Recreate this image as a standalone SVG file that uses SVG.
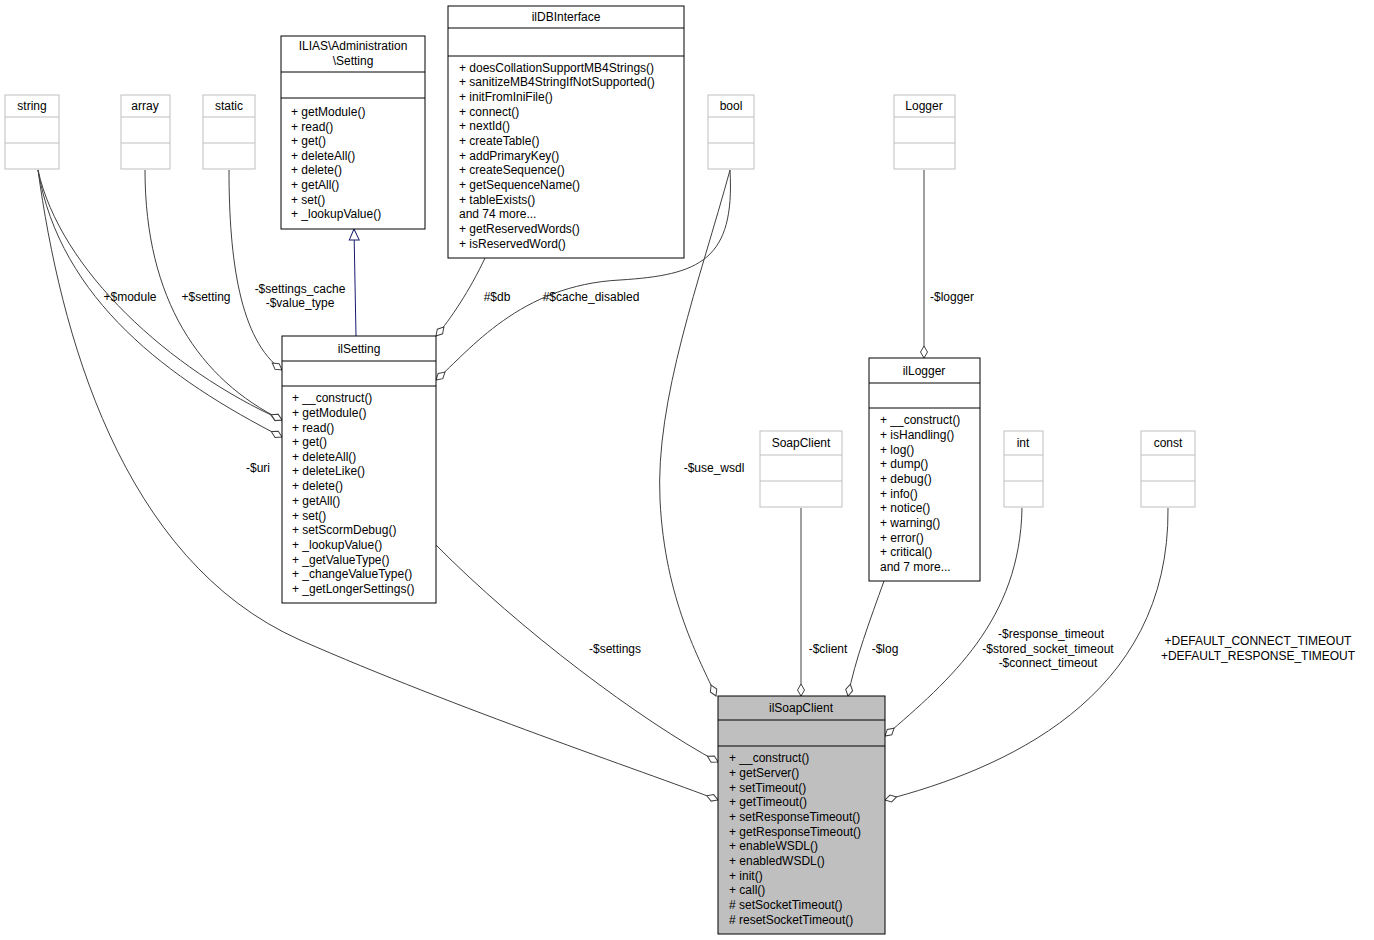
<svg xmlns="http://www.w3.org/2000/svg" width="1374" height="940" viewBox="0 0 1374 940">
<style>
text{font-family:"Liberation Sans",Arial,sans-serif;font-size:12px;fill:#000}
.c{text-anchor:middle}
.n{fill:#fff;stroke:#000;stroke-width:1}
.g{fill:#fff;stroke:#bfbfbf;stroke-width:1}
.e{fill:none;stroke:#404040;stroke-width:1;marker-end:url(#dia)}
</style>
<defs>
<marker id="dia" markerUnits="userSpaceOnUse" markerWidth="14" markerHeight="10" viewBox="-1 -5 14 10" refX="12" refY="0" orient="auto"><path d="M0,0 L6,-3.5 L12,0 L6,3.5 z" fill="#fff" stroke="#404040"/></marker>
<marker id="tri" markerUnits="userSpaceOnUse" markerWidth="14" markerHeight="12" viewBox="-1 -6 14 12" refX="11" refY="0" orient="auto"><path d="M0,-5 L11,0 L0,5 z" fill="#fff" stroke="#191970"/></marker>
</defs>
<rect width="1374" height="940" fill="#fff"/>
<g id="edges">
<path class="e" d="M38,170 C60,330 120,560 300,640 C460,710 640,770 718,800"/>
<text x="258" y="472" class="c">-$uri</text>
<path class="e" d="M38,170 C60,300 170,380 282,437"/>
<text x="130" y="301" class="c">+$module</text>
<path class="e" d="M38,170 C60,270 170,370 282,420"/>
<path class="e" d="M145,170 C145,300 200,380 282,420"/>
<text x="206" y="301" class="c">+$setting</text>
<path class="e" d="M229,170 C229,260 240,340 282,370"/>
<text x="300" y="293" class="c">-$settings_cache</text>
<text x="300" y="307" class="c">-$value_type</text>
<path d="M356,336 L354,229" fill="none" stroke="#191970" marker-end="url(#tri)"/>
<path class="e" d="M485,258 C470,290 450,320 436,336"/>
<text x="497" y="301" class="c">#$db</text>
<path class="e" d="M730,170 C735,260 700,275 620,280 C520,285 470,350 436,380"/>
<text x="591" y="301" class="c">#$cache_disabled</text>
<path class="e" d="M730,170 C700,280 655,400 660,500 C665,600 700,660 716,696"/>
<text x="714" y="472" class="c">-$use_wsdl</text>
<path class="e" d="M924,170 L924,358"/>
<text x="952" y="301" class="c">-$logger</text>
<path class="e" d="M436,545 C520,630 640,720 718,762"/>
<text x="615" y="653" class="c">-$settings</text>
<path class="e" d="M801,508 L801,696"/>
<text x="828" y="653" class="c">-$client</text>
<path class="e" d="M884,581 C870,620 855,660 848,696"/>
<text x="885" y="653" class="c">-$log</text>
<path class="e" d="M1022,508 C1020,620 950,680 885,736"/>
<text x="1051" y="638" class="c">-$response_timeout</text>
<text x="1048" y="653" class="c">-$stored_socket_timeout</text>
<text x="1048" y="667" class="c">-$connect_timeout</text>
<path class="e" d="M1168,508 C1170,700 1000,770 885,800"/>
<text x="1258" y="645" class="c">+DEFAULT_CONNECT_TIMEOUT</text>
<text x="1258" y="660" class="c">+DEFAULT_RESPONSE_TIMEOUT</text>
</g>
<g id="string"><rect class="g" x="5" y="95" width="54" height="74"/><line x1="5" y1="117" x2="59" y2="117" stroke="#bfbfbf"/><line x1="5" y1="143" x2="59" y2="143" stroke="#bfbfbf"/><text x="32" y="110" class="c">string</text></g>
<g id="array"><rect class="g" x="121" y="95" width="49" height="74"/><line x1="121" y1="117" x2="170" y2="117" stroke="#bfbfbf"/><line x1="121" y1="143" x2="170" y2="143" stroke="#bfbfbf"/><text x="145" y="110" class="c">array</text></g>
<g id="static"><rect class="g" x="203" y="95" width="52" height="74"/><line x1="203" y1="117" x2="255" y2="117" stroke="#bfbfbf"/><line x1="203" y1="143" x2="255" y2="143" stroke="#bfbfbf"/><text x="229" y="110" class="c">static</text></g>
<g id="bool"><rect class="g" x="708" y="95" width="46" height="74"/><line x1="708" y1="117" x2="754" y2="117" stroke="#bfbfbf"/><line x1="708" y1="143" x2="754" y2="143" stroke="#bfbfbf"/><text x="731" y="110" class="c">bool</text></g>
<g id="Logger"><rect class="g" x="894" y="95" width="61" height="74"/><line x1="894" y1="117" x2="955" y2="117" stroke="#bfbfbf"/><line x1="894" y1="143" x2="955" y2="143" stroke="#bfbfbf"/><text x="924" y="110" class="c">Logger</text></g>
<g id="SoapClient"><rect class="g" x="760" y="431" width="82" height="76"/><line x1="760" y1="455" x2="842" y2="455" stroke="#bfbfbf"/><line x1="760" y1="481" x2="842" y2="481" stroke="#bfbfbf"/><text x="801" y="447" class="c">SoapClient</text></g>
<g id="int"><rect class="g" x="1004" y="431" width="39" height="76"/><line x1="1004" y1="455" x2="1043" y2="455" stroke="#bfbfbf"/><line x1="1004" y1="481" x2="1043" y2="481" stroke="#bfbfbf"/><text x="1023" y="447" class="c">int</text></g>
<g id="const"><rect class="g" x="1141" y="431" width="54" height="76"/><line x1="1141" y1="455" x2="1195" y2="455" stroke="#bfbfbf"/><line x1="1141" y1="481" x2="1195" y2="481" stroke="#bfbfbf"/><text x="1168" y="447" class="c">const</text></g>
<g id="ILIASSetting"><rect class="n" x="281" y="36" width="144" height="193"/><line x1="281" y1="72" x2="425" y2="72" stroke="#000"/><line x1="281" y1="98" x2="425" y2="98" stroke="#000"/>
<text x="353" y="50" class="c">ILIAS\Administration</text><text x="353" y="65" class="c">\Setting</text>
<text x="291" y="116">+ getModule()</text><text x="291" y="131">+ read()</text><text x="291" y="145">+ get()</text><text x="291" y="160">+ deleteAll()</text><text x="291" y="174">+ delete()</text><text x="291" y="189">+ getAll()</text><text x="291" y="204">+ set()</text><text x="291" y="218">+ _lookupValue()</text></g>
<g id="ilDBInterface"><rect class="n" x="448" y="6" width="236" height="252"/><line x1="448" y1="28" x2="684" y2="28" stroke="#000"/><line x1="448" y1="56" x2="684" y2="56" stroke="#000"/>
<text x="566" y="21" class="c">ilDBInterface</text>
<text x="459" y="72">+ doesCollationSupportMB4Strings()</text><text x="459" y="86">+ sanitizeMB4StringIfNotSupported()</text><text x="459" y="101">+ initFromIniFile()</text><text x="459" y="116">+ connect()</text><text x="459" y="130">+ nextId()</text><text x="459" y="145">+ createTable()</text><text x="459" y="160">+ addPrimaryKey()</text><text x="459" y="174">+ createSequence()</text><text x="459" y="189">+ getSequenceName()</text><text x="459" y="204">+ tableExists()</text><text x="459" y="218">and 74 more...</text><text x="459" y="233">+ getReservedWords()</text><text x="459" y="248">+ isReservedWord()</text></g>
<g id="ilSetting"><rect class="n" x="282" y="336" width="154" height="267"/><line x1="282" y1="361" x2="436" y2="361" stroke="#000"/><line x1="282" y1="386" x2="436" y2="386" stroke="#000"/>
<text x="359" y="353" class="c">ilSetting</text>
<text x="292" y="402">+ __construct()</text><text x="292" y="417">+ getModule()</text><text x="292" y="432">+ read()</text><text x="292" y="446">+ get()</text><text x="292" y="461">+ deleteAll()</text><text x="292" y="475">+ deleteLike()</text><text x="292" y="490">+ delete()</text><text x="292" y="505">+ getAll()</text><text x="292" y="520">+ set()</text><text x="292" y="534">+ setScormDebug()</text><text x="292" y="549">+ _lookupValue()</text><text x="292" y="564">+ _getValueType()</text><text x="292" y="578">+ _changeValueType()</text><text x="292" y="593">+ _getLongerSettings()</text></g>
<g id="ilLogger"><rect class="n" x="869" y="358" width="111" height="223"/><line x1="869" y1="383" x2="980" y2="383" stroke="#000"/><line x1="869" y1="408" x2="980" y2="408" stroke="#000"/>
<text x="924" y="375" class="c">ilLogger</text>
<text x="880" y="424">+ __construct()</text><text x="880" y="439">+ isHandling()</text><text x="880" y="454">+ log()</text><text x="880" y="468">+ dump()</text><text x="880" y="483">+ debug()</text><text x="880" y="498">+ info()</text><text x="880" y="512">+ notice()</text><text x="880" y="527">+ warning()</text><text x="880" y="542">+ error()</text><text x="880" y="556">+ critical()</text><text x="880" y="571">and 7 more...</text></g>
<g id="ilSoapClient"><rect x="718" y="696" width="167" height="238" fill="#bfbfbf" stroke="#000"/><line x1="718" y1="720" x2="885" y2="720" stroke="#000"/><line x1="718" y1="746" x2="885" y2="746" stroke="#000"/>
<text x="801" y="712" class="c">ilSoapClient</text>
<text x="729" y="762">+ __construct()</text><text x="729" y="777">+ getServer()</text><text x="729" y="792">+ setTimeout()</text><text x="729" y="806">+ getTimeout()</text><text x="729" y="821">+ setResponseTimeout()</text><text x="729" y="836">+ getResponseTimeout()</text><text x="729" y="850">+ enableWSDL()</text><text x="729" y="865">+ enabledWSDL()</text><text x="729" y="880">+ init()</text><text x="729" y="894">+ call()</text><text x="729" y="909"># setSocketTimeout()</text><text x="729" y="924"># resetSocketTimeout()</text></g>
</svg>
